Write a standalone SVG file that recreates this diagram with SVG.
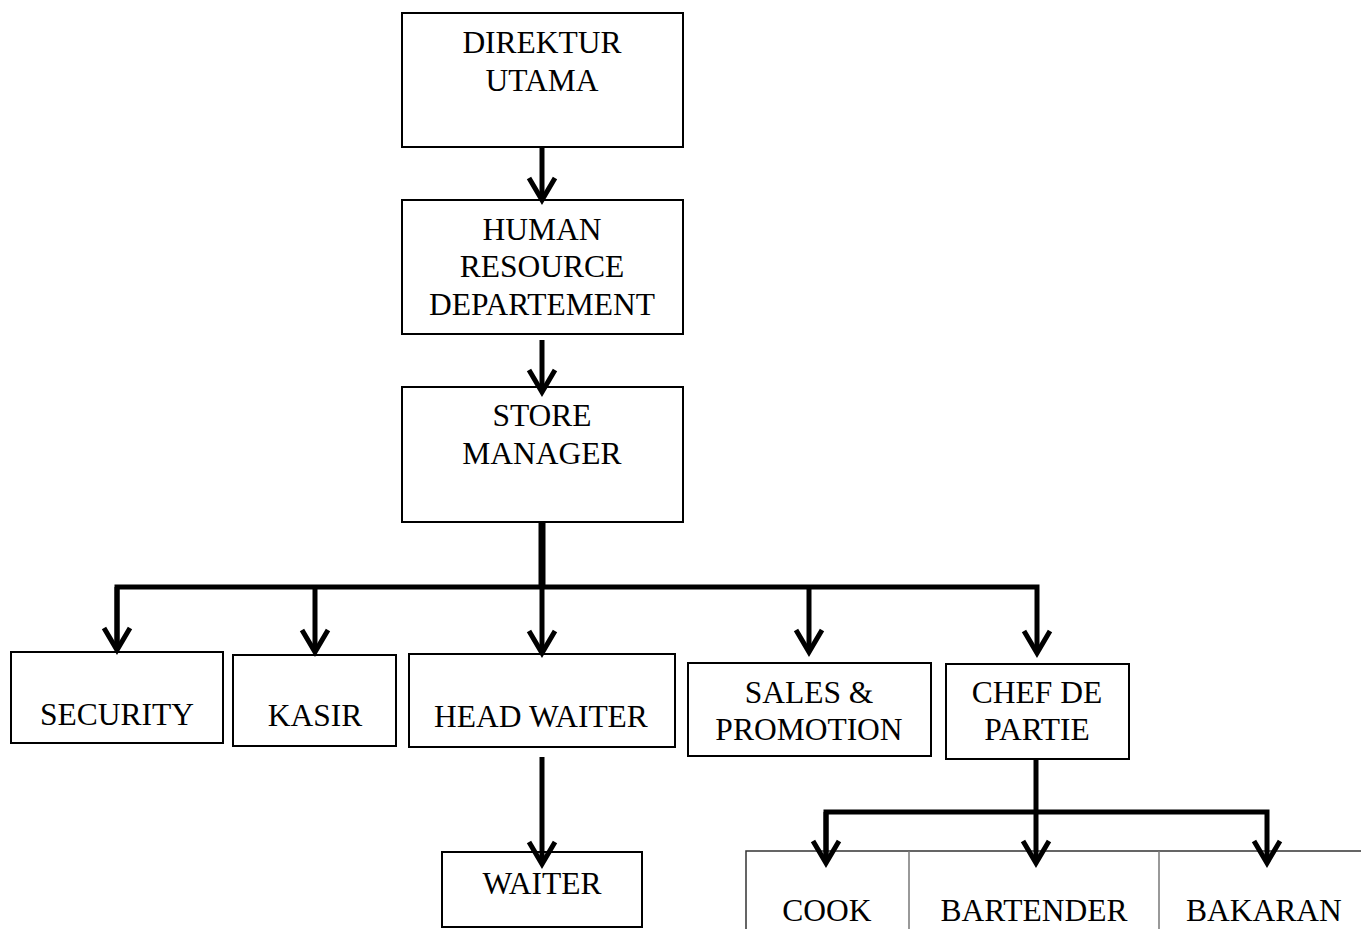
<svg xmlns="http://www.w3.org/2000/svg" width="1361" height="929" viewBox="0 0 1361 929">
<style>
.box{fill:#fff;stroke:#000;stroke-width:2}
.t{font-family:"Liberation Serif","Times New Roman",serif;font-size:31.5px;fill:#000;text-anchor:middle}
.c{fill:none;stroke:#000;stroke-width:5;stroke-linejoin:miter}
.thin{fill:none;stroke:#777;stroke-width:1.5}
</style>
<defs>
<marker id="ah" markerUnits="userSpaceOnUse" markerWidth="40" markerHeight="40" refX="0" refY="0" orient="auto" overflow="visible">
<path d="M -22 -13 L 0 0 L -22 13" fill="none" stroke="#000" stroke-width="5"/>
</marker>
</defs>
<rect width="1361" height="929" fill="#fff"/>
<g id="n-direktur"><rect class="box" x="402" y="13" width="281" height="134"/><text class="t" x="542" y="53">DIREKTUR</text><text class="t" x="542" y="91">UTAMA</text></g>
<g id="n-hr"><rect class="box" x="402" y="200" width="281" height="134"/><text class="t" x="542" y="240">HUMAN</text><text class="t" x="542" y="277">RESOURCE</text><text class="t" x="542" y="315">DEPARTEMENT</text></g>
<g id="n-store"><rect class="box" x="402" y="387" width="281" height="135"/><text class="t" x="542" y="426">STORE</text><text class="t" x="542" y="464">MANAGER</text></g>
<g id="n-security"><rect class="box" x="11" y="652" width="212" height="91"/><text class="t" x="117" y="725">SECURITY</text></g>
<g id="n-kasir"><rect class="box" x="233" y="655" width="163" height="91"/><text class="t" x="315" y="726">KASIR</text></g>
<g id="n-headwaiter"><rect class="box" x="409" y="654" width="266" height="93"/><text class="t" x="541" y="727">HEAD WAITER</text></g>
<g id="n-sales"><rect class="box" x="688" y="663" width="243" height="93"/><text class="t" x="809" y="703">SALES &amp;</text><text class="t" x="809" y="740">PROMOTION</text></g>
<g id="n-chef"><rect class="box" x="946" y="664" width="183" height="95"/><text class="t" x="1037" y="703">CHEF DE</text><text class="t" x="1037" y="740">PARTIE</text></g>
<g id="n-waiter"><rect class="box" x="442" y="852" width="200" height="75"/><text class="t" x="542" y="894">WAITER</text></g>
<g id="n-cook"><rect x="746" y="851" width="163" height="100" fill="#fff" stroke="none"/><text class="t" x="827" y="921">COOK</text></g>
<g id="n-bartender"><rect x="909" y="851" width="250" height="100" fill="#fff" stroke="none"/><text class="t" x="1034" y="921">BARTENDER</text></g>
<g id="n-bakaran"><rect x="1159" y="851" width="210" height="100" fill="#fff" stroke="none"/><text class="t" x="1264" y="921">BAKARAN</text></g>
<g id="table-lines">
<path d="M 746 940 L 746 851 L 1370 851" fill="none" stroke="#333" stroke-width="1.5"/>
<line class="thin" x1="909" y1="851" x2="909" y2="940"/>
<line class="thin" x1="1159" y1="851" x2="1159" y2="940"/>
</g>
<g id="connectors">
<line class="c" x1="542" y1="147" x2="542" y2="200" marker-end="url(#ah)"/>
<line class="c" x1="542" y1="340" x2="542" y2="392" marker-end="url(#ah)"/>
<line x1="542" y1="522" x2="542" y2="588" stroke="#000" stroke-width="7"/>
<path class="c" d="M 117 650 L 117 587 L 1037 587 L 1037 653" marker-end="url(#ah)" stroke-width="6"/>
<line class="c" x1="117" y1="587" x2="117" y2="650" marker-end="url(#ah)"/>
<line class="c" x1="315" y1="587" x2="315" y2="652" marker-end="url(#ah)"/>
<line class="c" x1="542" y1="587" x2="542" y2="653" marker-end="url(#ah)"/>
<line class="c" x1="809" y1="587" x2="809" y2="652" marker-end="url(#ah)"/>
<line class="c" x1="542" y1="757" x2="542" y2="864" marker-end="url(#ah)"/>
<line class="c" x1="1036" y1="759" x2="1036" y2="863" marker-end="url(#ah)"/>
<path class="c" d="M 826 863 L 826 812 L 1267 812 L 1267 863" marker-end="url(#ah)"/>
<line class="c" x1="826" y1="812" x2="826" y2="863" marker-end="url(#ah)"/>
</g>
</svg>
